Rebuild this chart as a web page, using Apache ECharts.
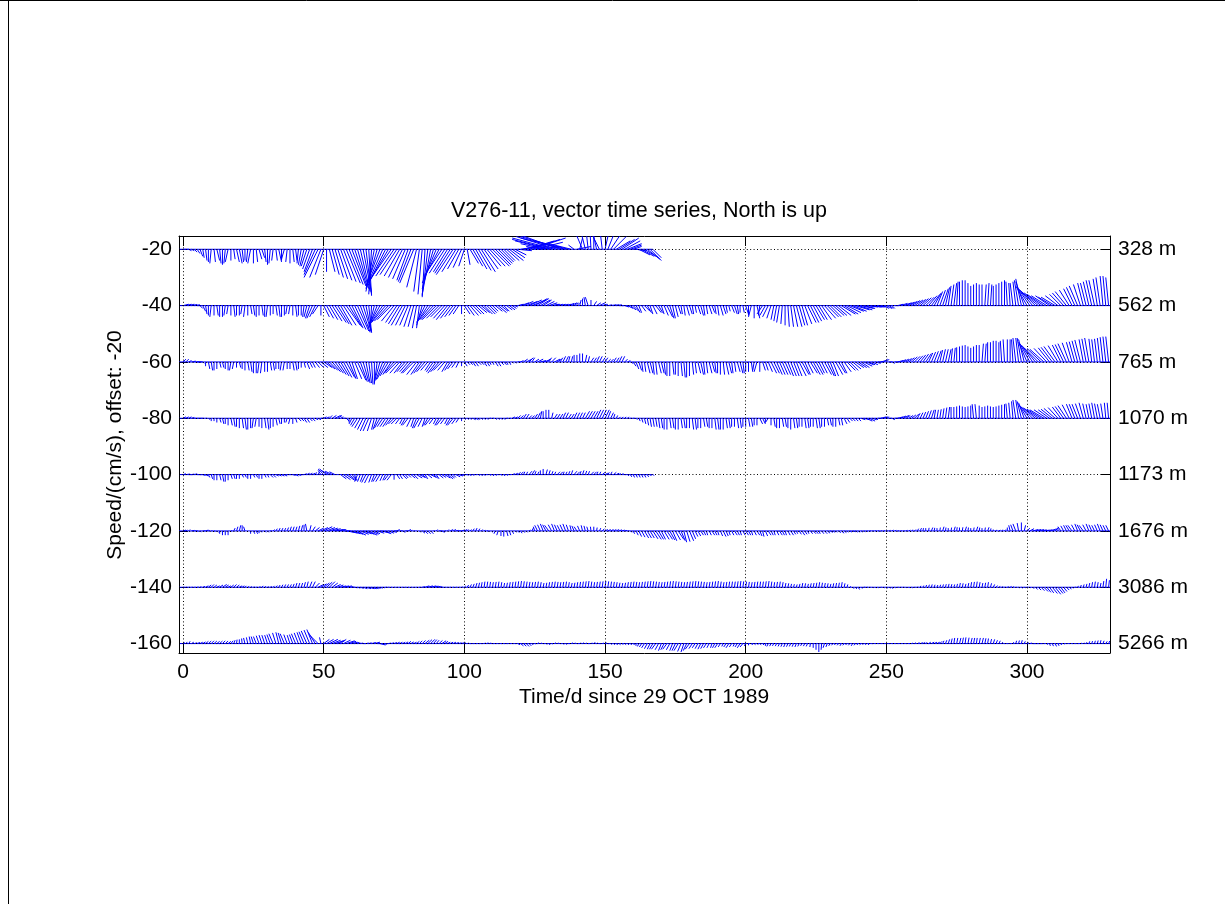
<!DOCTYPE html>
<html><head><meta charset="utf-8">
<script src="https://cdn.jsdelivr.net/npm/echarts@6/dist/echarts.min.js"></script>
<style>html,body{margin:0;padding:0;background:#fff}#c{width:1225px;height:904px}</style>
</head><body><div id="c"></div>
<script>
// ---- data ----
const days = [0,1,2,3,4,5,6,7,8,9,10,11,12,13,14,15,16,17,18,19,
20,21,22,23,24,25,26,27,28,29,30,31,32,33,34,35,36,37,38,39,
40,41,42,43,44,45,46,47,48,49,50,51,52,53,54,55,56,57,58,59,
60,61,62,63,64,65,66,67,68,69,70,71,72,73,74,75,76,77,78,79,
80,81,82,83,84,85,86,87,88,89,90,91,92,93,94,95,96,97,98,99,
100,101,102,103,104,105,106,107,108,109,110,111,112,113,114,115,116,117,118,119,
120,121,122,123,124,125,126,127,128,129,130,131,132,133,134,135,136,137,138,139,
140,141,142,143,144,145,146,147,148,149,150,151,152,153,154,155,156,157,158,159,
160,161,162,163,164,165,166,167,168,169,170,171,172,173,174,175,176,177,178,179,
180,181,182,183,184,185,186,187,188,189,190,191,192,193,194,195,196,197,198,199,
200,201,202,203,204,205,206,207,208,209,210,211,212,213,214,215,216,217,218,219,
220,221,222,223,224,225,226,227,228,229,230,231,232,233,234,235,236,237,238,239,
240,241,242,243,244,245,246,247,248,249,250,251,252,253,254,255,256,257,258,259,
260,261,262,263,264,265,266,267,268,269,270,271,272,273,274,275,276,277,278,279,
280,281,282,283,284,285,286,287,288,289,290,291,292,293,294,295,296,297,298,299,
300,301,302,303,304,305,306,307,308,309,310,311,312,313,314,315,316,317,318,319,
320,321,322,323,324,325,326,327,328,329];
const depthLabels = ['328 m','562 m','765 m','1070 m','1173 m','1676 m','3086 m','5266 m'];
const offsets = [-20,-40,-60,-80,-100,-120,-140,-160];
const baseStart = -1.45;
const baseEnd = [167,329.5,329.5,329.5,167,329.5,329.5,329.5];
const xTicks = [0,50,100,150,200,250,300];
const yTicks = [-20,-40,-60,-80,-100,-120,-140,-160];

// daily [east, north] components, cm/s
const s328 = [[1,0],[1,0],[1,-.5],[1,-.5],[1,-1],[1,-1.5],[1,-2.5],[.5,-3],[.5,-4],[0,-4.5],
[-.5,-5],[.5,-4.5],[1,-4],[.5,-5],[0,-5.5],[-.5,-5],[-1,-4.5],[0,-4],[.5,-3.5],[1,-4.5],
[1,-5],[.5,-4.5],[0,-4],[-.5,-4.5],[-1,-5],[0,-5],[.5,-4.5],[1,-3.5],[1,-3],[.5,-4.5],
[0,-5.5],[-.5,-5],[-.5,-4],[.5,-4],[1,-4.5],[0,-4],[-1,-3.5],[-.5,-4.5],[0,-5],[.5,-4.5],
[.5,-4],[-.5,-5],[-1,-5.5],[-1.5,-6],[-2,-6],[-2.5,-7],[-3,-8],[-4,-9],[-5,-10],[-4,-10],
[-3,-9],[0,-8],[2,-8],[2.5,-9],[3,-10],[3.5,-10.5],[4,-11],[4.5,-11.5],[5,-12],[5,-12.5],
[5,-13],[4.5,-13.5],[4,-14],[3.5,-15],[3,-15.5],[2,-16],[1,-16.5],[-1,-16],[-3,-15],[-4,-14],
[-5,-13],[-5.5,-12.5],[-6,-12],[-6.5,-11],[-7,-10],[-6.5,-9.5],[-6,-9],[-5.5,-9.5],[-5,-10],[-4.5,-10.5],
[-4,-11],[-4.5,-11.5],[-5,-12],[-3.5,-13.5],[-2,-15],[-1.5,-16],[-1,-17],[-2,-16.5],[-3,-16],[-4,-14],
[-5,-12],[-5.5,-10.5],[-6,-9],[-5.5,-8.5],[-5,-8],[-5.5,-8.5],[-6,-9],[-5,-8],[-4,-7],[-3,-6.5],
[-2,-6],[1,-5.5],[3,-5],[3.5,-6],[4,-7],[4.5,-7.5],[5,-8],[5,-7],[5,-6],[5.5,-6],
[6,-6],[5.5,-5.5],[5,-5],[4.5,-4.5],[4,-4],[4.5,-4],[5,-4],[4.5,-3],[4,-2],[5,-.5],
[6,1],[8,2],[10,3],[11,3.5],[12,4],[10,2.5],[8,1],[2,1],[-6,1],[-9,2],
[-12,3],[-14,3.5],[-15,4],[-14.5,4.5],[-14,5],[-15,4.5],[-16,4],[-12,3],[-8,2],[-2,1.5],
[5,1],[1,4],[-3,7],[-2,8],[-1,9],[-.5,9.5],[0,10],[-2,9],[-4,8],[-1,8.5],
[2,9],[3,7.5],[4,6],[4.5,4.5],[5,3],[5.5,3.5],[6,4],[5.5,3],[5,2],[4,1.5],
[3,1],[3.5,-.5],[4,-2],[4.5,-2.5],[5,-3],[4.5,-3.5],[4,-4],[3,-3]];
const s562 = [[2,.5],[2,.5],[2,.5],[2,.4],[2,.3],[1.5,0],[1,-1],[1,-2],[.5,-3],[0,-3.5],
[-.5,-4],[0,-3.5],[.5,-3.5],[0,-4],[0,-4],[-.5,-3.5],[-.5,-3],[0,-3.5],[.5,-4],[0,-3.5],
[0,-3.5],[-.5,-3],[-.5,-4],[0,-3.5],[.5,-3],[.5,-3.5],[0,-4],[0,-3.5],[.5,-3.5],[0,-4],
[-.5,-4],[0,-3.5],[0,-3],[.5,-3.5],[.5,-4],[0,-4],[0,-3.5],[-.5,-3],[-.5,-3],[0,-3.5],
[.5,-4],[0,-3.5],[0,-3.5],[-.5,-4],[-1,-4],[-1.5,-4.5],[-2,-4.5],[-2,-4],[-2,-3],[0,-3.5],
[2,-4],[2.5,-4.5],[3,-5],[3.5,-5.5],[4,-6],[4,-6.5],[4,-7],[4.5,-7],[5,-7],[4.5,-7.5],
[4,-8],[4,-8.5],[4,-9],[3.5,-9.5],[3,-9.5],[2,-9.5],[1,-9.5],[-.5,-9],[-2,-8],[-3,-7.5],
[-4,-7],[-4.5,-6.5],[-5,-6],[-5,-5.5],[-5,-5],[-4.5,-5.5],[-4,-6],[-4,-6.5],[-4,-7],[-3.5,-7],
[-3,-7],[-2.5,-7.5],[-2,-7.5],[-1.5,-8],[-1,-8],[-2,-7],[-3,-6],[-3.5,-5.5],[-4,-5],[-4.5,-5],
[-5,-5],[-4.5,-4.5],[-4,-4],[-4,-4.5],[-4,-5],[-3.5,-4.5],[-3,-4],[-2.5,-3.5],[-2,-3],[0,-3],
[2,-3],[2.5,-3.5],[3,-3.5],[3,-3],[3,-3],[3,-2.5],[3,-2.5],[3,-3],[3,-3],[2.5,-2.5],
[2,-2],[2.5,-2],[3,-2.5],[2.5,-2],[2,-2],[2,-1.5],[2,-1.5],[1.5,-1],[1,-.5],[2,.5],
[3,1],[3.5,1.5],[4,1.5],[4.5,2],[5,2],[4.5,2.5],[4,2.5],[3.5,2],[3,2],[3,1.5],
[3,1],[2.5,.5],[2,.5],[2,.5],[2,.5],[2,.5],[2,.5],[2,.8],[2,1],[1.5,1],
[1,1],[.5,2],[0,2.5],[-.5,3],[-1,3],[0,2],[1,1.5],[1.5,1],[2,1],[1.5,.5],
[1,.5],[1.5,.3],[2,.3],[2,.3],[2,.3],[1.5,0],[1,0],[1.5,-.5],[2,-1],[2,-1.5],
[2,-2],[1.5,-2.5],[1,-2.5],[1.5,-2],[2,-2],[1.5,-2.5],[1,-3],[1.5,-3],[2,-2.5],[1.5,-2.5],
[1,-3],[1.5,-3.5],[2,-4],[1.5,-4.5],[1,-4.5],[1,-4],[1,-3],[.5,-3],[.5,-3.5],[1,-3.5],
[1,-3],[.5,-3],[.5,-2.5],[1,-3],[1,-3.5],[.5,-3.5],[.5,-3],[1,-3],[1,-2.5],[.5,-3],
[.5,-3.5],[1,-3.5],[1,-3],[.5,-2.5],[.5,-2],[1,-2.5],[1,-3],[.5,-3],[0,-2.5],[.5,-2.5],
[1,-3],[0,-3.5],[-1,-4],[0,-4.5],[1,-4.5],[-.5,-3.5],[-2,-3],[-2,-3.5],[-2,-4],[-1.5,-4.5],
[-1,-5],[-1,-5.5],[-1,-6],[-.5,-6.5],[0,-7],[.5,-7.5],[1,-7.5],[1.5,-7.5],[2,-7.5],[2,-7],
[2,-7],[2.5,-6.5],[3,-6],[3,-6],[3,-5.5],[3,-5],[3,-5],[3.5,-5],[4,-4.5],[4,-4],
[4,-4],[4,-3.5],[4,-3.5],[4.5,-3.5],[5,-3],[5,-3],[5,-2.5],[5,-2],[5,-2],[5,-1.5],
[5,-1.5],[4.5,-1],[4,-1],[4,-.5],[4,-.5],[3.5,-.5],[3,-.5],[2.5,-.5],[2,-.5],[2,-1],
[2,-1],[1.5,-1],[1,-1],[1.5,0],[2,.5],[2.5,.8],[3,1],[3,1.2],[3,1.5],[3,1.8],
[3,2],[3,2.2],[3,2.5],[3,2.8],[3,3],[3,3.5],[3,4],[2.5,4.5],[2,5],[2,5.5],
[2,6],[1.5,6.5],[1,7],[1,7.5],[1,8],[.5,8.5],[0,8.5],[0,9],[0,9],[0,8],
[0,7],[0,7.5],[0,8],[0,7.5],[0,7.5],[.5,7.5],[.5,8],[.5,7.5],[0,7],[0,7.5],
[0,8],[0,8.5],[0,9],[-.5,8.5],[-.5,8],[-1,8],[-1,8.5],[-1.5,9],[-2,9.5],[-3,8.5],
[-4,7],[-4.5,6.5],[-5,6],[-5.5,5.5],[-6,5],[-6,4.5],[-6,4],[-5.5,3.5],[-5,3.5],[-5,3],
[-5,3],[-4.5,3.5],[-4,4],[-4,4.5],[-4,5],[-3.5,5.5],[-3,6],[-3,6.5],[-3,7],[-2.5,7.5],
[-2,8],[-2,8],[-2,8.5],[-2,9],[-2,9],[-1.5,9.5],[-1.5,10],[-1,10.5],[-1,10.5],[-1,10]];
const s765 = [[1,1],[1,1],[1,.5],[1.5,.3],[2,0],[1.5,0],[1,0],[.5,-.5],[0,-1.5],[.5,-2.5],
[.5,-3],[0,-3],[0,-2.5],[.5,-2],[.5,-2],[0,-2.5],[0,-3],[-.5,-3],[-.5,-2.5],[0,-2],
[.5,-2],[0,-2.5],[0,-3],[.5,-3],[.5,-3.5],[0,-4],[0,-4],[-.5,-4],[-.5,-4],[0,-3.5],
[0,-3.5],[.5,-3],[.5,-3],[0,-2.5],[0,-2.5],[-.5,-3],[-.5,-3],[0,-2.5],[0,-2.5],[.5,-3],
[.5,-3],[0,-2.5],[0,-2],[.5,-2],[1,-2.5],[1,-2],[1,-2],[1.5,-2],[2,-2],[2.5,-2],
[3,-2],[3,-2.5],[3,-3],[3,-3.5],[3,-4],[3,-4.5],[3,-5],[3,-5.5],[3,-5.5],[2.5,-6],
[2,-6],[2.5,-6],[3,-6.5],[2.5,-7],[2,-7],[1.5,-7.5],[1,-7.5],[.5,-8],[0,-8],[-1,-7.5],
[-2,-7],[-2.5,-6.5],[-3,-6],[-3,-5],[-3,-4.5],[-3.5,-4],[-4,-4],[-3.5,-4],[-3,-4],[-3,-3.5],
[-3,-3.5],[-3.5,-4],[-4,-4],[-3.5,-4.5],[-3,-4.5],[-3,-4],[-3,-3.5],[-2.5,-3],[-2,-3],[-2.5,-3.5],
[-3,-4],[-3,-3.5],[-3,-3],[-2.5,-3],[-2,-3.5],[-2,-3],[-2,-2.5],[-1.5,-2],[-1,-2],[0,-1.5],
[1,-1.5],[1,-1],[1,-1],[1,-1.5],[1,-1.5],[1,-1],[1,-1],[1,-1.5],[1,-1.5],[.5,-1],
[.5,-1],[1,-1.5],[1,-1.5],[1,-1],[1,-1],[.5,-1],[.5,-1],[.5,-.5],[.5,-.5],[1,0],
[1,.5],[1.5,1],[2,1],[1.5,1.5],[1,1.5],[1.5,1],[2,1],[2,.5],[2,.5],[1.5,1],
[1,1.5],[1.5,1.5],[2,1],[1.5,1],[1,1.5],[1,2],[1,2],[.5,2],[.5,2],[0,2.5],
[0,2.5],[0,3],[0,3],[.5,2.5],[.5,2],[1,1.5],[1,1.5],[1,2],[1,2],[1,1.5],
[1,1.5],[1,1],[1,1],[1,1.5],[1,1.5],[1,2],[1,2],[1,1],[1,.5],[1,-.5],
[1,-1.5],[1,-2.5],[1,-3],[.5,-3.5],[.5,-3.5],[1,-4],[1,-4],[.5,-4.5],[.5,-4.5],[1,-4],
[1,-4],[.5,-4.5],[0,-5],[0,-5],[.5,-4.5],[0,-4.5],[0,-5],[.5,-5],[.5,-5.5],[0,-5.5],
[0,-5],[.5,-4.5],[.5,-4],[1,-4],[1,-4.5],[.5,-4.5],[.5,-4],[1,-4],[1,-3.5],[.5,-4],
[0,-4],[0,-4.5],[.5,-4.5],[1,-4.5],[1,-4],[.5,-4],[.5,-3.5],[1,-3.5],[1,-4],[.5,-4],
[0,-3.5],[0,-3.5],[.5,-3.5],[-.5,-3],[-1,-3.5],[0,-3.5],[1,-3],[1,-3],[1.5,-3.5],[2,-4],
[2,-4],[2,-4.5],[2,-4.5],[2,-4.5],[2,-4.5],[2,-5],[2,-5],[2,-5],[2,-5],[2.5,-5],
[2.5,-4.5],[2,-4.5],[2,-4],[2.5,-4],[2.5,-4.5],[2.5,-4.5],[2,-4],[2,-4],[2.5,-4.5],[2.5,-5],
[2,-5],[2,-5],[2.5,-4.5],[2.5,-4],[2,-4],[2.5,-3.5],[3,-3],[3,-3],[3,-2.5],[3,-2],
[3,-2],[3,-2],[3,-1.5],[2.5,-1],[2,-1],[2,-1],[2,-.5],[2,0],[2,.5],[1.5,1],
[1,1],[1,0],[1,-.5],[1.5,0],[2,.5],[2,.8],[2,1],[2,1.2],[2,1.5],[2,1.8],
[2,2],[2,2.2],[2,2.5],[2,2.8],[2,3],[1.5,3.2],[1.5,3.5],[1.5,3.8],[1.5,4],[1,4.2],
[1,4.5],[1,4.5],[1,4.5],[.5,4.8],[.5,5],[0,5.2],[0,5.5],[0,5.8],[0,6],[0,5.5],
[0,5],[0,5.5],[0,6],[0,6],[.5,6.5],[.5,6.5],[0,7],[0,7],[0,7.5],[0,7.5],
[0,7],[-.5,7.5],[-.5,8],[0,8],[0,8],[-.5,8],[-1,8.5],[-1,8.5],[-1.5,8.5],[-2,8],
[-3,7],[-3.5,6.5],[-4,6],[-4.5,5.5],[-5,5],[-5,4.8],[-5,4.5],[-4.5,4.8],[-4,5],[-4,5.2],
[-4,5.5],[-3.5,5.8],[-3,6],[-3,6.2],[-3,6.5],[-2.5,6.8],[-2,7],[-2,7.2],[-2,7.5],[-2,7.8],
[-1.5,8],[-1.5,8.2],[-1.5,8.5],[-1,8.2],[-1,8],[-1,8.2],[-1,8.5],[-1,8.8],[-1,9],[-1,9]];
const s1070 = [[1,.5],[1,.5],[1,.5],[1,.3],[1,0],[1,0],[1,0],[.5,0],[.5,0],[.5,-.5],
[0,-1],[0,-1],[0,-1.5],[.5,-1.5],[.5,-2],[0,-2],[0,-2.5],[.5,-2.5],[.5,-3],[0,-3],
[0,-3.5],[.5,-3.5],[.5,-4],[0,-4],[0,-3.5],[-.5,-3.5],[-.5,-3],[0,-3],[0,-3.5],[.5,-3.5],
[.5,-4],[0,-3.5],[0,-3],[.5,-2.5],[.5,-2],[0,-2],[0,-1.5],[-.5,-1.5],[-.5,-2],[0,-2],
[.5,-1.5],[1,-1],[1,-1],[1,-1.5],[1,-1.5],[1,-1],[1,-1],[1,-.5],[1,-.5],[1,0],
[1,.5],[1,.5],[1,1],[1.5,1],[2,1],[1.5,1],[1,.5],[1,0],[1,-1],[0,-1.5],
[-1,-2],[-1.5,-2.5],[-2,-3],[-2,-3.5],[-2,-4],[-2,-4.5],[-2,-4.5],[-1.5,-4.5],[-1,-4],[-1.5,-4],
[-2,-3.5],[-2,-3],[-2,-3],[-2,-3],[-2,-2.5],[-2,-2],[-2,-2],[-1.5,-2],[-1,-2],[-1.5,-2.5],
[-2,-2.5],[-1.5,-3],[-1,-3],[-1.5,-3.5],[-2,-3.5],[-1.5,-3],[-1,-3],[-1.5,-2.5],[-2,-2.5],[-1.5,-2],
[-1,-2],[-1.5,-2.5],[-2,-2.5],[-1.5,-2],[-1,-2],[-1.5,-2.5],[-2,-2.5],[-1.5,-2],[-1,-1.5],[0,-1],
[.5,-.5],[.5,-.5],[.5,-.5],[1,-.5],[1,-.5],[.5,-.5],[.5,-.5],[.5,-.5],[.5,-.5],[.5,0],
[.5,0],[.5,-.5],[.5,-.5],[.5,-.5],[.5,-.5],[.5,0],[.5,0],[1,.5],[1,.5],[1,1],
[1,1],[1,1.5],[1,1.5],[1,1],[1,1],[1,1.5],[1,2],[.5,2.5],[0,2.5],[0,3],
[0,3],[.5,2],[1,1.5],[1,1.5],[1,1.5],[1,2],[1,2],[1,1.5],[1,1.5],[1,2],
[1,2],[1,2],[1,2],[1.5,2.5],[1.5,2.5],[1.5,2.5],[1.5,2.5],[1.5,3],[1.5,3],[1.5,3],
[1.5,3],[1,2.5],[1,2],[.5,1.5],[.5,1],[.5,.5],[.5,.5],[.5,.5],[.5,.5],[.5,0],
[.5,0],[.5,-.5],[.5,-1],[.5,-1.5],[.5,-2],[.5,-2.5],[.5,-3],[.5,-3],[.5,-3],[.5,-3.5],
[.5,-3.5],[0,-4],[0,-4],[.5,-3.5],[.5,-3.5],[0,-4],[0,-4],[.5,-3.5],[.5,-3.5],[0,-3.5],
[0,-3.5],[.5,-4],[.5,-4],[0,-3.5],[0,-3.5],[.5,-3],[.5,-3],[0,-3.5],[0,-3.5],[.5,-4],
[.5,-4],[0,-4],[0,-4],[.5,-3.5],[.5,-3.5],[0,-3],[0,-3],[.5,-3.5],[.5,-3.5],[0,-3],
[0,-3],[.5,-3],[.5,-3],[0,-2.5],[0,-2.5],[1,-2],[1,-2],[0,-1.5],[-1,-1.5],[0,-2.5],
[.5,-3],[0,-3.5],[0,-3.5],[.5,-3],[.5,-3],[0,-3.5],[0,-4],[.5,-3.5],[.5,-3.5],[0,-3],
[0,-3],[.5,-3.5],[.5,-3.5],[0,-3],[0,-3],[.5,-3.5],[.5,-3.5],[0,-3],[0,-3],[.5,-2.5],
[.5,-2.5],[0,-3],[0,-3],[.5,-2.5],[.5,-2.5],[1,-2],[1,-1.5],[1,-1],[1,-1],[1,-1],
[1,-1],[1.5,-.5],[2,-.5],[2,-1],[2,-1],[1.5,-.5],[1,-.5],[1.5,0],[2,.5],[1.5,.5],
[1,.5],[1,0],[1,-.5],[1.5,0],[2,.5],[2,.8],[2,1],[1.5,1],[1.5,1],[1.5,1.2],
[1.5,1.5],[1,1.8],[1,2],[1,2.2],[1,2.5],[1,2.8],[1,3],[.5,3],[.5,3],[.5,3.2],
[.5,3.5],[.5,3.8],[.5,4],[0,4],[0,4],[0,4.2],[0,4.5],[0,4.2],[0,4],[0,4.2],
[0,4.5],[-.5,5],[-.5,5],[0,4.5],[0,4],[0,4.2],[0,4.5],[0,4.2],[0,4],[0,4.2],
[0,4.5],[0,4.8],[0,5],[-.5,5.2],[-.5,5.5],[-.5,6],[-1,6.5],[-1,6.5],[-1.5,6],[-2,5.5],
[-3,5],[-3.5,4.5],[-4,4],[-4.5,3.8],[-5,3.5],[-5,3.2],[-5,3],[-4.5,3],[-4,3],[-4,3.2],
[-4,3.5],[-3.5,3.8],[-3,4],[-3,4.2],[-3,4.5],[-2.5,4.8],[-2,5],[-2,5],[-2,5],[-1.8,5.2],
[-1.5,5.5],[-1.2,5.2],[-1,5],[-1,5.2],[-1,5.5],[-1,5.2],[-1,5],[-.8,5.2],[-.5,5.5],[-.5,5.5]];
const s1173 = [[1,.3],[1.5,.2],[1.5,0],[1,.2],[1,.3],[1.5,0],[1.5,0],[1,-.3],[1,-.5],[.5,-1],
[.5,-1.5],[0,-2],[0,-2],[.5,-2],[.5,-2.5],[0,-2.5],[0,-2],[.5,-1.5],[.5,-1.5],[0,-1.5],
[0,-1.5],[.5,-1],[.5,-1],[0,-1.5],[0,-1.5],[.5,-1],[.5,-1],[0,-1.5],[0,-1.5],[.5,-1],
[.5,-1],[1,-1],[1,-1],[1,-.5],[1,-.5],[1,-.5],[1,-.5],[1,0],[1,0],[1,-.3],
[1,-.5],[1,-.3],[1,0],[1,.3],[1,.5],[1,.5],[1,.5],[.5,.8],[.5,1],[-1,1.5],
[-2,2],[-2.5,2],[-3,1.5],[-2.5,1.2],[-2,1],[0,0],[2,-1.5],[2.5,-1.8],[3,-2],[2.5,-2],
[2,-2],[.5,-2.2],[-1,-2.5],[-1,-2.5],[-1,-2.5],[-1.5,-2.8],[-1.5,-3],[-1,-2.8],[-1,-2.5],[-1.5,-2.5],
[-1.5,-2.5],[-1,-2.2],[-1,-2],[-1.5,-2],[-1.5,-2],[0,-1.8],[1,-1.5],[1,-1.5],[1.5,-1.5],[1,-1.2],
[1,-1],[1.5,-1.2],[1.5,-1.5],[2,-1.2],[2,-1],[1.5,-1.2],[1,-1.5],[1.5,-1.2],[2,-1],[1.5,-1.2],
[1,-1.5],[1.5,-1.2],[1.5,-1],[2,-1.2],[2,-1.5],[1.5,-1.2],[1,-1],[1.5,-.8],[1.5,-.5],[1,-.3],
[1,0],[.5,-.3],[.5,-.5],[.5,-.3],[.5,0],[.5,-.3],[.5,-.5],[.5,-.3],[.5,0],[.5,-.3],
[.5,-.5],[.5,-.3],[.5,0],[.5,-.3],[.5,-.5],[.5,-.3],[.5,0],[1,.3],[1,.5],[1,.8],
[1,1],[.5,1],[.5,1],[1,1.2],[1,1.5],[.5,1.2],[.5,1],[0,1.5],[0,2],[.5,1.8],
[.5,1.5],[.5,1.2],[.5,1],[1,1],[1,1],[.5,1],[.5,1],[.5,1.2],[.5,1.5],[1,1.2],
[1,1],[.5,1.2],[.5,1.5],[.5,1.3],[.5,1.2],[1,1],[1,1],[.5,1],[.5,1],[1,.8],
[1,.5],[.5,.8],[.5,1],[1,.8],[1,.5],[.5,.5],[.5,.5],[.5,0],[.5,-.5],[.5,-.8],
[.5,-1],[.5,-1],[.5,-1],[.5,-1],[.5,-1],[.5,-.8],[.5,-.5],[.5,-.3]];
const s1676 = [[1,.3],[.5,.3],[.5,.5],[1,.2],[1,0],[.5,-.2],[.5,-.3],[1,0],[1,.3],[.5,.2],
[.5,0],[.5,-.2],[.5,-.5],[0,-1],[0,-1.5],[0,-1.5],[0,-1.5],[.5,0],[.5,1],[.5,1.5],
[.5,2],[0,2],[-.5,1.5],[0,0],[0,-1],[.5,-1],[.5,-1],[0,-.8],[0,-.5],[.5,-.5],
[.5,-.5],[.5,0],[.5,.5],[.5,.8],[.5,1],[.5,1],[.5,1],[.5,1.2],[.5,1.5],[.5,1.5],
[.5,1.5],[.5,1.8],[.5,2],[0,2.2],[-.5,2.5],[.5,2],[1,1.5],[1.5,1.2],[2,1],[2.5,1.2],
[3,1.5],[3,1.2],[3,1],[3,.8],[3,.5],[2.5,.5],[2,.5],[2.5,0],[3,-.5],[3,-.8],
[3,-1],[3,-1.2],[3,-1.5],[3,-1.2],[3,-1],[3,-1.2],[3,-1.5],[2.5,-1.2],[2,-1],[2.5,-.8],
[3,-.5],[2.5,-.8],[2,-1],[2,-.8],[2,-.5],[1.5,0],[1,.5],[1,0],[1,-.5],[1,0],
[1,.5],[.5,.2],[.5,0],[.5,-.3],[.5,-.5],[1,-.8],[1,-1],[1,-1],[1,-1],[.5,0],
[.5,.5],[1,0],[1,-.5],[.5,0],[.5,.5],[1,.5],[1,.5],[1,.2],[1,0],[1,.3],
[1,.5],[.5,.5],[.5,.5],[.5,.8],[.5,1],[.5,.8],[.5,.5],[.5,.2],[.5,0],[0,-.3],
[0,-.5],[-.5,-1],[-.5,-1.5],[0,-1.8],[0,-2],[.5,-1.8],[.5,-1.5],[.5,-1],[.5,-.5],[.5,-.6],
[.5,-.8],[.5,-.6],[.5,-.5],[.5,.3],[.5,1],[-.5,1.5],[-1,2],[-1,2.2],[-1,2.5],[-1.2,2.2],
[-1.5,2],[-1.2,2.2],[-1,2.5],[-1,2.2],[-1,2],[-1,2.2],[-1,2.5],[-.8,2.2],[-.5,2],[-.8,1.8],
[-1,1.5],[-.8,1.8],[-.5,2],[-.5,1.8],[-.5,1.5],[-.2,1.5],[0,1.5],[.2,1.2],[.5,1],[.8,.8],
[1,.5],[1,.5],[1,.5],[1,.5],[1,.5],[1,.4],[1,.3],[.8,.2],[.5,0],[.5,-.5],
[.5,-1],[.8,-1.5],[1,-2],[1.2,-2.2],[1.5,-2.5],[1.5,-2.5],[1.5,-2.5],[1.8,-2.8],[2,-3],[1.8,-3],
[1.5,-3],[1.8,-3],[2,-3],[1.8,-3.2],[1.5,-3.5],[1.8,-3.2],[2,-3],[1.5,-3.5],[1,-4],[1.2,-3.8],
[1.5,-3.5],[1.2,-2.8],[1,-2],[1,-1.8],[1,-1.5],[.8,-1.5],[.5,-1.5],[.8,-1.5],[1,-1.5],[.8,-1.5],
[.5,-1.5],[.8,-1.8],[1,-2],[.8,-1.8],[.5,-1.5],[.8,-1.5],[1,-1.5],[.8,-1.5],[.5,-1.5],[.8,-1.5],
[1,-1.5],[.8,-1.5],[.5,-1.5],[.8,-1.5],[1,-1.5],[.8,-1.8],[.5,-2],[.8,-1.8],[1,-1.5],[.8,-1.5],
[.5,-1.5],[.8,-1.5],[1,-1.5],[.8,-1.5],[.5,-1.5],[.8,-1.5],[1,-1.5],[.8,-1.2],[.5,-1],[.8,-1.2],
[1,-1.5],[.8,-1.2],[.5,-1],[.8,-1],[1,-1],[.8,-1],[.5,-1],[.8,-1],[1,-1],[1,-.8],
[1,-.5],[.8,-.5],[.5,-.5],[.8,-.6],[1,-.8],[.8,-.6],[.5,-.5],[.8,-.4],[1,-.3],[.8,-.4],
[.5,-.5],[.5,-.4],[.5,-.3],[.5,-.2],[.5,0],[.5,0],[.5,0],[.5,0],[.5,0],[.5,0],
[.5,0],[.5,.2],[.5,.3],[.5,.2],[.5,0],[.5,0],[.5,0],[.5,.2],[.5,.3],[.5,.4],
[.5,.5],[.5,.8],[.5,1],[.2,1],[0,1],[.2,1.1],[.5,1.2],[.2,1.1],[0,1],[.2,1.2],
[.5,1.5],[.2,1.2],[0,1],[.2,1.2],[.5,1.5],[.2,1.3],[0,1.2],[.2,1.3],[.5,1.5],[.2,1.2],
[0,1],[.2,1.2],[.5,1.5],[.2,1.2],[0,1],[.2,1.2],[.5,1.3],[.2,.9],[0,.5],[.2,.4],
[.5,.3],[.5,.4],[.5,.5],[0,1.2],[-.5,2],[-.8,2.2],[-1,2.5],[-.5,2.8],[0,3],[.5,2],
[1,1],[1.5,.8],[2,.5],[2,.5],[2,.5],[2,.4],[2,.3],[2,.4],[2,.5],[1.5,.8],
[1,1],[0,1.2],[-1,1.5],[-1,1.8],[-1,2],[-1.2,2],[-1.5,2],[-1.2,2.2],[-1,2.5],[-1.2,2.2],
[-1.5,2],[-1.2,2.2],[-1,2.5],[-1,2.2],[-1,2],[-1,2.2],[-1,2.5],[-1,2.2],[-1,2],[-1,2]];
const s3086 = [[.5,0],[.5,0],[.5,0],[.5,0],[.5,0],[.5,.1],[.5,.2],[.8,.3],[1,.5],[1,.8],
[1,1],[1,.8],[1,.5],[1.2,.8],[1.5,1],[1.2,.8],[1,.5],[1,.8],[1,1],[1,.8],
[1,.5],[.8,.5],[.5,.5],[.5,.3],[.5,.2],[.5,.1],[.5,0],[.5,.2],[.5,.5],[.5,.3],
[.5,.2],[.5,.3],[.5,.5],[.5,.6],[.5,.8],[.5,.9],[.5,1],[.5,1],[.5,1],[.5,1.2],
[.5,1.5],[.5,1.5],[.5,1.5],[.5,1.8],[.5,2],[.8,2],[1,2],[1.5,1.5],[2,1],[2,1.2],
[2,1.5],[2,1.8],[2,2],[2,1.5],[2,1],[2,.8],[2,.5],[2,.5],[2,.5],[1.5,.2],
[1,0],[1,-.2],[1,-.3],[1.2,-.4],[1.5,-.5],[1.8,-.5],[2,-.5],[1.8,-.5],[1.5,-.5],[1.2,-.4],
[1,-.3],[.8,-.2],[.5,0],[.3,0],[.3,0],[.3,0],[.3,0],[.3,0],[.3,0],[.3,0],
[.3,0],[.3,0],[.3,0],[.3,0],[.5,0],[1,.2],[1.5,.5],[1.8,.5],[2,.5],[1.8,.4],
[1.5,.3],[1,.2],[.5,0],[.3,0],[.3,0],[.3,0],[.3,0],[.3,0],[.3,0],[.3,.2],
[.5,.5],[.5,.8],[.5,1],[.5,1.2],[.5,1.5],[.4,1.6],[.3,1.8],[.3,2],[.3,2],[.3,1.9],
[.3,1.8],[.3,1.9],[.3,2],[.3,1.8],[.3,1.5],[.3,1.6],[.3,1.8],[.3,1.9],[.3,2],[.3,2.1],
[.3,2.2],[.3,2.1],[.3,2],[.3,1.9],[.3,1.8],[.3,1.9],[.3,2],[.3,1.8],[.3,1.5],[.3,1.6],
[.3,1.8],[.3,1.9],[.3,2],[.3,1.9],[.3,1.8],[.3,1.9],[.3,2],[.3,1.8],[.3,1.5],[.3,1.6],
[.3,1.8],[.3,1.9],[.3,2],[.3,2.1],[.3,2.2],[.3,2],[.3,1.8],[.3,1.9],[.3,2],[.3,2.1],
[.3,2.2],[.3,2.1],[.3,2],[.3,1.9],[.3,1.8],[.3,1.6],[.3,1.5],[.3,1.6],[.3,1.8],[.3,1.9],
[.3,2],[.3,1.9],[.3,1.8],[.3,1.9],[.3,2],[.3,2.1],[.3,2.2],[.3,2.1],[.3,2],[.3,1.9],
[.3,1.8],[.3,1.9],[.3,2],[.3,2.1],[.3,2.2],[.3,2.1],[.3,2],[.3,1.9],[.3,1.8],[.3,1.9],
[.3,2],[.3,2.1],[.3,2.2],[.3,2.1],[.3,2],[.3,1.9],[.3,1.8],[.3,1.9],[.3,2],[.3,2.1],
[.3,2.2],[.3,2],[.3,1.8],[.3,1.9],[.3,2],[.3,2],[.3,2],[.3,2.1],[.3,2.2],[.3,2.1],
[.3,2],[.3,1.9],[.3,1.8],[.3,1.9],[.3,2],[.3,2],[.3,2],[.3,2.1],[.3,2.2],[.3,2],
[.3,1.8],[.3,1.9],[.3,2],[.3,1.8],[.3,1.5],[.3,1.4],[.3,1.2],[.3,1.1],[.3,1],[.3,1.2],
[.3,1.5],[.3,1.4],[.3,1.2],[.3,1.4],[.3,1.5],[.3,1.6],[.3,1.8],[.3,1.6],[.3,1.5],[.3,1.4],
[.3,1.2],[.3,1.4],[.3,1.5],[.3,1.6],[.3,1.8],[.3,1.4],[.3,1],[.4,.3],[.5,-.5],[.5,-.6],
[.5,-.8],[.5,-.4],[.5,0],[.4,0],[.3,0],[.3,-.2],[.3,-.3],[.3,-.2],[.3,0],[.4,-.2],
[.5,-.3],[.4,-.4],[.3,-.5],[.3,-.2],[.3,0],[.3,0],[.3,0],[.3,-.2],[.3,-.3],[.3,-.2],
[.3,0],[.3,.2],[.3,.5],[.3,.6],[.3,.8],[.3,.9],[.3,1],[.3,.9],[.3,.8],[.3,.9],
[.3,1],[.3,1.1],[.3,1.2],[.3,1.1],[.3,1],[.3,1.2],[.3,1.5],[.3,1.4],[.3,1.2],[.3,1.5],
[.3,1.8],[.3,1.9],[.3,2],[.3,1.8],[.3,1.5],[.3,1.6],[.3,1.8],[.4,1.4],[.5,1],[.5,.6],
[.5,.3],[.5,.2],[.5,0],[.5,.2],[.5,.3],[.4,.2],[.3,0],[.4,-.2],[.5,-.3],[.4,-.2],
[.3,0],[.4,-.2],[.5,-.5],[.8,-.8],[1,-1],[1.2,-1.2],[1.5,-1.5],[1.5,-1.8],[1.5,-2],[1.8,-2.2],
[2,-2.5],[1.8,-2.2],[1.5,-2],[1.2,-1.5],[1,-1],[.8,-.6],[.5,-.3],[.4,0],[.3,.5],[.3,.8],
[.3,1],[.3,1.2],[.3,1.5],[.3,1.8],[.3,2],[.3,1.8],[.3,1.5],[.3,2.2],[.3,3],[.3,2.5]];
const s5266 = [[.5,.5],[.5,.6],[.5,.8],[.8,.5],[1,.3],[1,.4],[1,.5],[1,.6],[1,.8],[1,.9],
[1,1],[1,.9],[1,.8],[1,.9],[1,1],[1,.9],[1,.8],[.8,1],[.5,1.2],[.2,1.4],
[0,1.5],[-.2,1.8],[-.5,2],[-.5,2.2],[-.5,2.5],[-.8,2.5],[-1,2.5],[-1,2.8],[-1,3],[-1,3],
[-1,3],[-1.2,3.2],[-1.5,3.5],[-1.2,3.8],[-1,4],[-1.2,3.8],[-1.5,3.5],[-1.2,3.2],[-1,3],[-1.2,3.2],
[-1.5,3.5],[-1.5,3.8],[-1.5,4],[-1.8,4.2],[-2,4.5],[-2,4.8],[-2,5],[-2.5,4],[-3,3],[-.5,2.2],
[2,1.5],[2.5,1.5],[3,1.5],[3,1.2],[3,1],[2.5,1.2],[2,1.5],[2.5,1.2],[3,1],[2.5,.8],
[2,.5],[1.5,.4],[1,.3],[1,.2],[1,0],[1,.2],[1,.3],[1.5,.4],[2,.5],[2,0],
[2,-.5],[1.5,-.2],[1,0],[1,.2],[1,.3],[1,.4],[1,.5],[1,.5],[1,.5],[1,.6],
[1,.8],[1,.6],[1,.5],[1,.8],[1,1],[1.2,1.1],[1.5,1.2],[1.5,1.4],[1.5,1.5],[1.2,1.4],
[1,1.2],[1.2,1.1],[1.5,1],[1.2,.8],[1,.5],[1,.5],[1,.5],[1,.4],[1,.3],[.8,.3],
[.5,.3],[.5,.2],[.5,0],[.5,0],[.5,0],[.5,0],[.5,0],[.5,.2],[.5,.3],[.5,.2],
[.5,0],[.5,0],[.5,0],[.5,0],[.5,0],[.5,0],[.5,0],[.5,0],[.5,0],[.8,-.4],
[1,-.8],[1,-.9],[1,-1],[.8,-.8],[.5,-.5],[.5,-.1],[.5,.3],[.5,.2],[.5,0],[.5,-.2],
[.5,-.5],[.5,-.1],[.5,.3],[.5,.2],[.5,0],[.5,-.2],[.5,-.3],[.5,0],[.5,.3],[.5,.2],
[.5,0],[.5,.2],[.5,.3],[.5,.2],[.5,0],[.5,.2],[.5,.5],[.5,.2],[.5,0],[.5,.2],
[.5,.3],[.5,0],[.5,-.3],[.5,-.4],[.5,-.5],[.5,-.4],[.5,-.3],[.5,-.4],[.5,-.5],[.5,-.5],
[.5,-.5],[0,-.8],[-.5,-1],[-.8,-1.2],[-1,-1.5],[-1,-1.8],[-1,-2],[-1.2,-2],[-1.5,-2],[-1.2,-2.2],
[-1,-2.5],[-1.2,-2.2],[-1.5,-2],[-1.2,-2.2],[-1,-2.5],[-1.2,-2.5],[-1.5,-2.5],[-1.2,-2.8],[-1,-3],[-1.2,-2.5],
[-1.5,-2],[-1.2,-1.8],[-1,-1.5],[-1,-1.8],[-1,-2],[-1,-1.8],[-1,-1.5],[-.8,-1.5],[-.5,-1.5],[-.8,-1.5],
[-1,-1.5],[-.8,-1.2],[-.5,-1],[-.8,-1.2],[-1,-1.5],[-.8,-1.2],[-.5,-1],[-.8,-1.2],[-1,-1.5],[-1,-1.2],
[-.5,-.8],[0,-.6],[.5,-.5],[.5,-.4],[.5,-.3],[.5,-.4],[.5,-.5],[0,-.8],[-.5,-1],[-.5,-.9],
[-.5,-.8],[-.5,-.9],[-.5,-1],[-.5,-1.1],[-.5,-1.2],[-.5,-1.1],[-.5,-1],[-.5,-1.1],[-.5,-1.2],[-.5,-1],
[-.5,-.8],[-.5,-.9],[-.5,-1],[-.2,-1.2],[0,-1.5],[0,-2.2],[0,-3],[-.2,-2.2],[-.5,-1.5],[-.5,-1.2],
[-.5,-.8],[-.5,-.6],[-.5,-.5],[-.5,-.6],[-.5,-.8],[-.5,-.6],[-.5,-.5],[-.5,-.6],[-.5,-.8],[-.5,-.6],
[-.5,-.5],[-.5,-.4],[-.5,-.3],[-.5,-.4],[-.5,-.5],[0,-.2],[.3,0],[.3,0],[.3,0],[.3,0],
[.3,0],[.3,0],[.3,0],[.3,0],[.3,0],[.3,0],[.3,0],[.3,0],[.3,0],[.4,.2],
[.5,.3],[.8,.3],[1,.3],[.8,.4],[.5,.5],[.8,.5],[1,.5],[1,.5],[1,.5],[.8,.8],
[.5,1],[.5,1.2],[.5,1.5],[.4,1.8],[.3,2],[.4,2],[.5,2],[.4,2.1],[.3,2.2],[.4,2.1],
[.5,2],[.4,2],[.3,2],[.4,2],[.5,2],[.4,1.9],[.3,1.8],[.4,1.6],[.5,1.5],[.5,1.2],
[.5,1],[.4,.5],[.3,0],[.3,0],[.3,0],[.3,.5],[.3,1],[.3,1.1],[.3,1.2],[.4,.8],
[.5,.5],[.8,.2],[1,0],[1,0],[1,0],[.6,0],[.3,0],[.3,-.4],[.3,-.8],[.4,-.9],
[.5,-1],[.4,-.8],[.3,-.5],[.3,-.2],[.3,0],[.3,0],[.3,0],[.3,0],[.3,0],[.3,.2],
[.3,.3],[.3,.5],[.3,.8],[.3,.9],[.3,1],[.3,1.1],[.3,1.2],[.4,1],[.5,.8],[.4,.9]];
const sticks = [s328,s562,s765,s1070,s1173,s1676,s3086,s5266];

// ---- chart ----
const FONT = '"Liberation Sans", Arial, Helvetica, sans-serif';
const BLUE = '#0000ff';
const chart = echarts.init(document.getElementById('c'), null, {renderer:'canvas'});

function stickRenderer(off){
  return function(params, api){
    const t = api.value(0), u = api.value(1), v = api.value(2);
    const p0 = api.coord([t, off]);
    const p1 = api.coord([t + u, off + v]);
    return {type:'line', silent:true,
      shape:{x1:p0[0], y1:p0[1], x2:p1[0], y2:p1[1]},
      style:{stroke:BLUE, lineWidth:1}};
  };
}

const series = [];
series.push({type:'line', data:[[0,-160]], symbol:'none', lineStyle:{opacity:0}, silent:true, z:1,
  markLine:{silent:true, symbol:['none','none'], label:{show:false}, animation:false,
    lineStyle:{color:'#000', type:[1,2.4], width:1},
    emphasis:{disabled:true},
    data:[...xTicks.map(x=>({xAxis:x})), ...yTicks.map(y=>({yAxis:y}))]}});
sticks.forEach((s, k)=>{
  const off = offsets[k];
  series.push({type:'line', silent:true, symbol:'none', z:3,
    data:[[baseStart, off],[baseEnd[k], off]],
    lineStyle:{color:BLUE, width:1}});
  series.push({type:'custom', clip:true, silent:true, z:4,
    renderItem: stickRenderer(off),
    encode:{x:0, y:2},
    data: s.map((p,i)=>[days[i], p[0], p[1]])});
});

const axisCommon = {
  axisLine:{show:true, onZero:false, lineStyle:{color:'#000', width:1}},
  splitLine:{show:false}
};
chart.setOption({
  animation:false,
  backgroundColor:'#fff',
  grid:{left:179, top:236, width:931, height:417, show:false},
  xAxis:[
    Object.assign({type:'value', min:-1.45, max:329.5, position:'bottom',
      axisTick:{show:true, inside:true, length:10, customValues:xTicks, lineStyle:{color:'#000'}},
      axisLabel:{customValues:xTicks, color:'#000', fontSize:21, fontFamily:FONT, margin:9}}, axisCommon),
    Object.assign({type:'value', min:-1.45, max:329.5, position:'top',
      axisTick:{show:true, inside:true, length:10, customValues:xTicks, lineStyle:{color:'#000'}},
      axisLabel:{show:false}}, axisCommon)
  ],
  yAxis:[
    Object.assign({type:'value', min:-163.34, max:-15.28, position:'left',
      axisTick:{show:true, inside:true, length:9, customValues:yTicks, lineStyle:{color:'#000'}},
      axisLabel:{customValues:yTicks, color:'#000', fontSize:21, fontFamily:FONT, margin:7}}, axisCommon),
    Object.assign({type:'value', min:-163.34, max:-15.28, position:'right',
      axisTick:{show:true, inside:true, length:9, customValues:yTicks, lineStyle:{color:'#000'}},
      axisLabel:{customValues:yTicks, color:'#000', fontSize:21, fontFamily:FONT, margin:8,
        formatter:(val)=>depthLabels[offsets.indexOf(Math.round(val))] || ''}}, axisCommon)
  ],
  series: series,
  graphic:[
    {type:'line', silent:true, shape:{x1:0,y1:0.5,x2:1225,y2:0.5}, style:{stroke:'#000', lineWidth:1}},
    {type:'line', silent:true, shape:{x1:8.5,y1:0,x2:8.5,y2:904}, style:{stroke:'#000', lineWidth:1}},
    {type:'text', silent:true, x:639, y:211.5, style:{text:'V276-11, vector time series, North is up',
      font:'21.5px '+FONT, fill:'#000', align:'center', verticalAlign:'middle', textAlign:'center', textVerticalAlign:'middle'}},
    {type:'text', silent:true, x:644, y:697, style:{text:'Time/d since 29 OCT 1989',
      font:'21px '+FONT, fill:'#000', align:'center', verticalAlign:'middle', textAlign:'center', textVerticalAlign:'middle'}},
    {type:'text', silent:true, x:115, y:445, rotation:Math.PI/2, style:{text:'Speed/(cm/s), offset: -20',
      font:'21px '+FONT, fill:'#000', align:'center', verticalAlign:'middle', textAlign:'center', textVerticalAlign:'middle'}}
  ]
});
</script></body></html>
